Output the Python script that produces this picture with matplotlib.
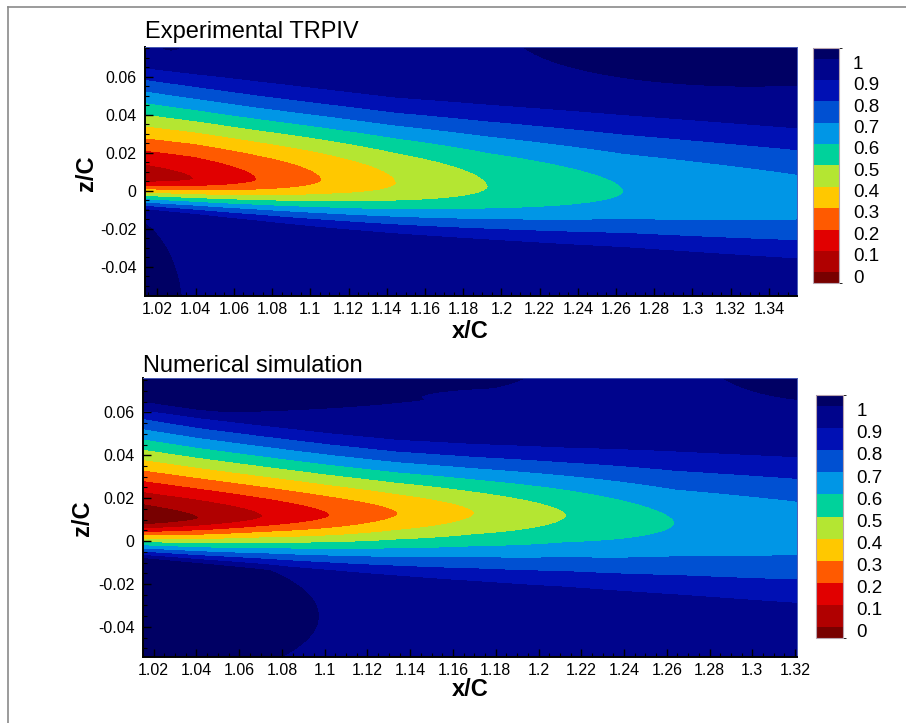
import numpy as np
import matplotlib
matplotlib.use("Agg")
import matplotlib.pyplot as plt
from matplotlib.colors import ListedColormap, BoundaryNorm
from matplotlib.cm import ScalarMappable
from matplotlib.ticker import FixedLocator, MultipleLocator, FuncFormatter
from matplotlib.lines import Line2D
from matplotlib.transforms import ScaledTranslation

plt.rcParams["font.family"] = ["Liberation Sans", "DejaVu Sans"]

# ---------------------------------------------------------------- data
contour_levels = [0.0, 0.1, 0.2, 0.3, 0.4, 0.5, 0.6, 0.7, 0.8, 0.9, 1.0]
colorbar_labels = ["0", "0.1", "0.2", "0.3", "0.4", "0.5", "0.6", "0.7", "0.8", "0.9", "1"]
band_colors = ["#780000", "#b00000", "#e10000", "#ff5a00", "#ffc800", "#b4e632",
               "#00d29b", "#0096e6", "#0050d2", "#0010b4", "#00048c", "#000064"]

# Experimental TRPIV : wake read at stations along x/C
exp_title = "Experimental TRPIV"
exp_x_station = [1.0135, 1.039, 1.072, 1.106, 1.145, 1.193, 1.264, 1.355]
exp_u_center = [0.05, 0.10, 0.20, 0.30, 0.40, 0.50, 0.60, 0.66]
exp_z_center = [0.0065, 0.0062, 0.0058, 0.0055, 0.0040, 0.0020, -0.0005, -0.0045]
exp_z_upper_edge = [0.0646, 0.0616, 0.0578, 0.0538, 0.0492, 0.0455, 0.0400, 0.0330]
exp_z_lower_edge = [-0.0100, -0.0125, -0.0160, -0.0195, -0.0228, -0.0260, -0.0300, -0.0360]
exp_shape = [0.0, 0.2, 0.45, 0.7, 0.9, 1.0, 1.0, 1.0]
exp_above_one = [(1.330, 0.085, 0.125, 0.030), (1.000, -0.065, 0.033, 0.052),
                 (1.027, 0.078, 0.006, 0.004)]
exp_cut = []
exp_xlim = (1.0135, 1.3547)
exp_zlim = (-0.0555, 0.0756)
exp_xticks = [1.02, 1.04, 1.06, 1.08, 1.10, 1.12, 1.14, 1.16, 1.18, 1.20,
              1.22, 1.24, 1.26, 1.28, 1.30, 1.32, 1.34]

# Numerical simulation
num_title = "Numerical simulation"
num_x_station = [1.015, 1.041, 1.071, 1.1024, 1.1342, 1.170, 1.2131, 1.2638, 1.321]
num_u_center = [-0.07, 0.0, 0.10, 0.20, 0.30, 0.40, 0.50, 0.60, 0.645]
num_z_center = [0.0100, 0.0107, 0.0115, 0.0120, 0.0128, 0.0130, 0.0120, 0.0085, 0.0065]
num_z_upper_edge = [0.0619, 0.0575, 0.0540, 0.0505, 0.0474, 0.0455, 0.0438, 0.0420, 0.0393]
num_z_lower_edge = [-0.0070, -0.0090, -0.0110, -0.0137, -0.0163, -0.0188, -0.0215, -0.0250, -0.0290]
num_shape = [0.0, 0.0, 0.1, 0.2, 0.3, 0.45, 0.6, 0.7, 0.7]
num_above_one = [(1.030, 0.082, 0.170, 0.022), (1.340, 0.085, 0.060, 0.020),
                 (1.000, -0.035, 0.097, 0.033)]
num_cut = [(1.210, 0.067, 0.065, 0.005)]
num_xlim = (1.015, 1.3209)
num_zlim = (-0.054, 0.076)
num_xticks = [1.02, 1.04, 1.06, 1.08, 1.10, 1.12, 1.14, 1.16, 1.18, 1.20,
              1.22, 1.24, 1.26, 1.28, 1.30, 1.32]

zticks = [-0.04, -0.02, 0.0, 0.02, 0.04, 0.06]

# ---------------------------------------------------------------- field model
SOFT = 0.12
BASE = 0.99


def deficit_shape(s, m):
    a = np.abs(s)
    soft = (np.sqrt(a ** 2 + SOFT ** 2) - SOFT) / (np.sqrt(1 + SOFT ** 2) - SOFT)
    tri = np.clip(1.0 - soft, 0.0, 1.0)
    cos2 = np.cos(0.5 * np.pi * np.clip(a, 0.0, 1.0)) ** 2
    return (1.0 - m) * tri + m * cos2


def edge_parameter(D, m):
    s = np.linspace(0, 1, 4001)
    T = deficit_shape(s, m)
    target = (BASE - contour_levels[9]) / D
    return np.interp(target, T[::-1], s[::-1])


def build_field(xs, uc, zc, zup, zlo, shape, above, cut, xlim, zlim):
    xs, uc, zc = np.asarray(xs), np.asarray(uc), np.asarray(zc)
    zup, zlo, shape = np.asarray(zup), np.asarray(zlo), np.asarray(shape)
    D = BASE - uc
    s09 = np.array([edge_parameter(d, m) for d, m in zip(D, shape)])
    w_up = (zup - zc) / s09
    w_lo = (zc - zlo) / s09
    x = np.linspace(xlim[0], xlim[1], 800)
    z = np.linspace(zlim[0], zlim[1], 600)
    X, Z = np.meshgrid(x, z)
    Dx = np.interp(X, xs, D)
    zcx = np.interp(X, xs, zc)
    wux = np.interp(X, xs, w_up)
    wlx = np.interp(X, xs, w_lo)
    mx = np.interp(X, xs, shape)
    dz = Z - zcx
    w = np.where(dz >= 0, wux, wlx)
    T = deficit_shape(dz / w, mx)
    g = np.full(X.shape, -10.0)
    for cx, cz, rx, rz in above:
        g = np.maximum(g, 1 - ((X - cx) / rx) ** 2 - ((Z - cz) / rz) ** 2)
    for cx, cz, rx, rz in cut:
        g = np.minimum(g, ((X - cx) / rx) ** 2 + ((Z - cz) / rz) ** 2 - 1)
    Ue = np.clip(1.0 + 0.05 * g, BASE, 1.04)
    return X, Z, Ue - Dx * T


# ---------------------------------------------------------------- figure
W, H = 906, 723
fig = plt.figure(figsize=(W / 100, H / 100), dpi=100)


def fx(px):
    return px / W


def fy(py):
    return 1 - py / H


fig.add_artist(Line2D([fx(8), fx(906)], [fy(7), fy(7)], color="#8a8a8a", lw=1.2))
fig.add_artist(Line2D([fx(8), fx(8)], [fy(7), fy(723)], color="#8a8a8a", lw=1.2))

cmap = ListedColormap(band_colors)
fill_levels = [-1.0] + contour_levels + [2.0]
bar_bounds = [-0.05] + contour_levels + [1.05]
fmt = FuncFormatter(lambda v, p: "%g" % round(v, 4))

panels = [
    dict(title=exp_title, data=(exp_x_station, exp_u_center, exp_z_center, exp_z_upper_edge,
                                exp_z_lower_edge, exp_shape, exp_above_one, exp_cut, exp_xlim, exp_zlim),
         xticks=exp_xticks, ax_px=(145, 797, 47, 296), cb_px=(812.7, 839, 48, 283),
         title_px=(145, 38), zlabel_px=(87, 173), xlabel_px=(470, 332)),
    dict(title=num_title, data=(num_x_station, num_u_center, num_z_center, num_z_upper_edge,
                                num_z_lower_edge, num_shape, num_above_one, num_cut, num_xlim, num_zlim),
         xticks=num_xticks, ax_px=(143, 797, 378, 657), cb_px=(816, 842.7, 395, 638),
         title_px=(143, 372), zlabel_px=(83, 518), xlabel_px=(470, 690)),
]

for p in panels:
    l, r, t, b = p["ax_px"]
    ax = fig.add_axes([fx(l), fy(b), (r - l) / W, (b - t) / H])
    X, Z, U = build_field(*p["data"])
    ax.contourf(X, Z, U, levels=fill_levels, colors=band_colors, antialiased=False)
    xlim, zlim = p["data"][8], p["data"][9]
    ax.set_xlim(*xlim)
    ax.set_ylim(*zlim)
    ax.xaxis.set_major_locator(FixedLocator(p["xticks"]))
    ax.yaxis.set_major_locator(FixedLocator(zticks))
    ax.xaxis.set_minor_locator(MultipleLocator(0.005))
    ax.yaxis.set_minor_locator(MultipleLocator(0.005))
    ax.xaxis.set_major_formatter(fmt)
    ax.yaxis.set_major_formatter(fmt)
    ax.tick_params(which="both", direction="in", top=False, right=False, color="black")
    ax.tick_params(which="major", length=6, width=1.0, labelsize=11.5)
    ax.tick_params(which="minor", length=3, width=0.8)
    ax.tick_params(axis="x", which="major", pad=4)
    ax.tick_params(axis="y", which="major", pad=6)
    for side in ("bottom", "left"):
        ax.spines[side].set_linewidth(1.4)
        ax.spines[side].set_color("black")
    for side in ("top", "right"):
        ax.spines[side].set_linewidth(0.7)
        ax.spines[side].set_color("#4a5bb5")

    fig.text(fx(p["title_px"][0]), fy(p["title_px"][1]), p["title"], fontsize=17,
             ha="left", va="baseline")
    fig.text(fx(p["zlabel_px"][0]), fy(p["zlabel_px"][1]), "z/C", fontsize=17,
             fontweight="bold", rotation=90, ha="center", va="center")
    fig.text(fx(p["xlabel_px"][0]), fy(p["xlabel_px"][1]), "x/C", fontsize=17,
             fontweight="bold", ha="center", va="center")

    cl, cr, ct, cbm = p["cb_px"]
    cax = fig.add_axes([fx(cl), fy(cbm), (cr - cl) / W, (cbm - ct) / H])
    sm = ScalarMappable(norm=BoundaryNorm(bar_bounds, len(band_colors)), cmap=cmap)
    cb = fig.colorbar(sm, cax=cax, spacing="proportional")
    cb.set_ticks(contour_levels)
    cb.set_ticklabels(colorbar_labels)
    cax.tick_params(length=0, labelsize=13.5, pad=10)
    cb.outline.set_edgecolor("#b8a4b0")
    cb.outline.set_linewidth(0.8)
    shift = ScaledTranslation(0, -3.7 / 100, fig.dpi_scale_trans)
    for lbl in cax.get_yticklabels():
        lbl.set_transform(lbl.get_transform() + shift)

fig.savefig("out.png", dpi=100)
